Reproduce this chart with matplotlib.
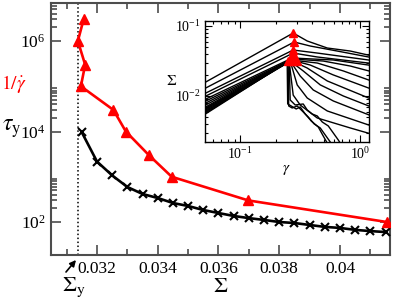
"""
Yield stress figure: relaxation time tau_y and 1/gamma_dot versus stress Sigma,
with an inset of the stress-strain curves (Sigma vs gamma).
"""

import matplotlib
matplotlib.use("Agg")
import matplotlib.pyplot as plt
from matplotlib.ticker import (FixedLocator, FuncFormatter, LogLocator,
                               LogFormatterMathtext, MultipleLocator,
                               NullFormatter)

plt.rcParams["font.family"] = ["Liberation Serif", "DejaVu Serif"]
plt.rcParams["mathtext.fontset"] = "stix"

# --- main panel data ---
sigma_y = 0.03138

tau_sigma = [0.0315, 0.0320, 0.0325, 0.0330, 0.0335, 0.0340, 0.0345, 0.0350,
             0.0355, 0.0360, 0.0365, 0.0370, 0.0375, 0.0380, 0.0385, 0.0390,
             0.0395, 0.0400, 0.0405, 0.0410, 0.0415]
tau_y = [9600, 2170, 1070, 594, 416, 339, 263, 226, 184, 158, 136, 122,
         111, 100, 95, 86, 78, 74, 67, 63, 60]

rate_sigma = [0.03156, 0.03137, 0.03161, 0.03147, 0.03254, 0.03295,
              0.03371, 0.03446, 0.03698, 0.04154]
inv_rate = [3e6, 1e6, 3e5, 1e5, 3e4, 1e4, 3e3, 1e3, 3e2, 1e2]

# --- inset data: stress-strain curves (gamma, Sigma) ---
curve_gamma = [
    [0.05, 0.2765, 0.3617, 0.5309, 0.8254, 1.2],
    [0.05, 0.2818, 0.3831, 0.6431, 1.2],
    [0.05, 0.2765, 0.4382, 1.2],
    [0.05, 0.2765, 0.4382, 1.2],
    [0.05, 0.2712, 0.5957, 1.2],
    [0.05, 0.2712, 0.4914, 0.8254, 1.2],
    [0.05, 0.2661, 0.4382, 0.7218, 1.2],
    [0.05, 0.2661, 0.3831, 0.5957, 1.2],
    [0.05, 0.2610, 0.3617, 0.5309, 1.2],
    [0.05, 0.2610, 0.3350, 0.4642, 0.7218, 1.2],
    [0.05, 0.2610, 0.3162, 0.4057, 0.5957, 1.2],
    [0.05, 0.2610, 0.2985, 0.3617, 0.5309, 1.2],
    [0.05, 0.2561, 0.2765, 0.3162, 0.4382, 0.8254, 1.2],
    [0.05, 0.2561, 0.2610, 0.2873, 0.3350, 0.3617, 0.3981, 0.4382, 0.4823,
     0.5412, 0.5957, 0.6556, 0.7218],
    [0.05, 0.2512, 0.2536, 0.2712, 0.2985, 0.3286, 0.3687, 0.4135, 0.4642,
     0.5109, 0.5623, 0.6070],
    [0.05, 0.2464, 0.2488, 0.2661, 0.2929, 0.3162, 0.3481, 0.3906, 0.4467,
     0.4914, 0.5412],
]
curve_sigma = [
    [0.0153, 0.0794, 0.0611, 0.0485, 0.0439, 0.0380],
    [0.0126, 0.0591, 0.0518, 0.0439, 0.0358],
    [0.01068, 0.0454, 0.0411, 0.0325],
    [0.00968, 0.0411, 0.0361, 0.0294],
    [0.00877, 0.0349, 0.0327, 0.0275],
    [0.00821, 0.0338, 0.0316, 0.0268, 0.0226],
    [0.00769, 0.0327, 0.0296, 0.0228, 0.0167],
    [0.00720, 0.0327, 0.0277, 0.0200, 0.0128],
    [0.00674, 0.0327, 0.0251, 0.0164, 0.0092],
    [0.00652, 0.0316, 0.0228, 0.0144, 0.0100, 0.0071],
    [0.00631, 0.0316, 0.0193, 0.0122, 0.00849, 0.0053],
    [0.00611, 0.0316, 0.0144, 0.00936, 0.00611, 0.0038],
    [0.00591, 0.0306, 0.0103, 0.00744, 0.00485, 0.00349, 0.0029],
    [0.00572, 0.0316, 0.00877, 0.00744, 0.00769, 0.00631, 0.00553, 0.00518,
     0.00425, 0.00373, 0.00296, 0.00235, 0.00181],
    [0.00553, 0.0306, 0.00720, 0.00674, 0.00720, 0.00611, 0.00501, 0.00398,
     0.00349, 0.00277, 0.00220, 0.00169],
    [0.00535, 0.0306, 0.00769, 0.00720, 0.00652, 0.00697, 0.00553, 0.00439,
     0.00361, 0.00268, 0.00200],
]

peak_gamma = [0.2765, 0.2818, 0.2765, 0.2765, 0.2712, 0.2873, 0.2610,
              0.2985, 0.2512, 0.2712]
peak_sigma = [0.0794, 0.0591, 0.0454, 0.0411, 0.0349, 0.0327, 0.0327,
              0.0316, 0.0316, 0.0316]

W, H = 396, 304


def fx(px):
    return px / W


def fy(py):
    return 1 - py / H


fig = plt.figure(figsize=(W / 100, H / 100), dpi=100)
ax = fig.add_axes([fx(51), fy(255), fx(390) - fx(51), fy(3) - fy(255)])

ax.axvline(sigma_y, color="k", ls=(0, (1, 1.6)), lw=1.1, zorder=1)
ax.plot(tau_sigma, tau_y, color="k", lw=1.9, marker="x", ms=6, mew=1.5,
        zorder=3)
ax.plot(rate_sigma, inv_rate, color="red", lw=1.9, marker="^", ms=7.5,
        zorder=3)

ax.set_yscale("log")
ax.set_xlim(0.030486, 0.041646)
ax.set_ylim(10 ** 1.271, 10 ** 6.84)

ax.xaxis.set_major_locator(MultipleLocator(0.002))
ax.xaxis.set_minor_locator(MultipleLocator(0.001))
ax.xaxis.set_major_formatter(
    FuncFormatter(lambda v, p: f"{v:.3f}".rstrip("0")))
ax.yaxis.set_major_locator(FixedLocator([1e2, 1e4, 1e6]))
ax.yaxis.set_minor_locator(
    FixedLocator([k * 10 ** m for m in (2, 4, 6) for k in range(2, 10)]))
ax.yaxis.set_major_formatter(LogFormatterMathtext())
ax.yaxis.set_minor_formatter(NullFormatter())

ax.tick_params(which="both", direction="in", top=True, right=True,
               color="0.3", width=1.2, labelsize=12.5)
ax.tick_params(which="major", length=7, pad=4)
ax.tick_params(which="minor", length=4)
for sp in ax.spines.values():
    sp.set_linewidth(1.5)
    sp.set_color("0.3")

# axis labels placed as free text like the original
fig.text(fx(1), fy(84), r"$1/\dot{\gamma}$", color="red", fontsize=14,
         ha="left", va="center")
fig.text(fx(2), fy(129), r"$\tau_{\mathrm{y}}$", fontsize=17,
         ha="left", va="center")
fig.text(fx(221), fy(287), r"$\Sigma$", fontsize=16, ha="center",
         va="center")
fig.text(fx(62), fy(287), r"$\Sigma_{\mathrm{y}}$", fontsize=16,
         ha="left", va="center")
fig.add_artist(matplotlib.patches.FancyArrowPatch(
    (fx(66), fy(272)), (fx(76), fy(260)), transform=fig.transFigure,
    arrowstyle="-|>", mutation_scale=9, color="k", lw=1.2,
    shrinkA=0, shrinkB=0))

# --- inset ---
axin = fig.add_axes([fx(205), fy(142), fx(369) - fx(205), fy(21) - fy(142)])
for g, s in zip(curve_gamma, curve_sigma):
    axin.plot(g, s, color="k", lw=1.0)
axin.plot(peak_gamma, peak_sigma, ls="none", marker="^", ms=5.5,
          color="red", zorder=4)
axin.set_xscale("log")
axin.set_yscale("log")
axin.set_xlim(0.0511, 1.18)
axin.set_ylim(0.0022, 0.118)
for a in (axin.xaxis, axin.yaxis):
    a.set_major_locator(LogLocator(base=10))
    a.set_minor_locator(LogLocator(base=10, subs=range(2, 10)))
    a.set_major_formatter(LogFormatterMathtext())
    a.set_minor_formatter(NullFormatter())
axin.tick_params(which="both", direction="in", top=True, right=True,
                 width=0.8, labelsize=10, pad=3)
axin.tick_params(which="major", length=5)
axin.tick_params(which="minor", length=2.5)
for sp in axin.spines.values():
    sp.set_linewidth(1.0)
fig.text(fx(172), fy(81), r"$\Sigma$", fontsize=11, ha="center",
         va="center")
fig.text(fx(286), fy(170), r"$\gamma$", fontsize=11, ha="center",
         va="center")

fig.savefig("out.png", dpi=100)
